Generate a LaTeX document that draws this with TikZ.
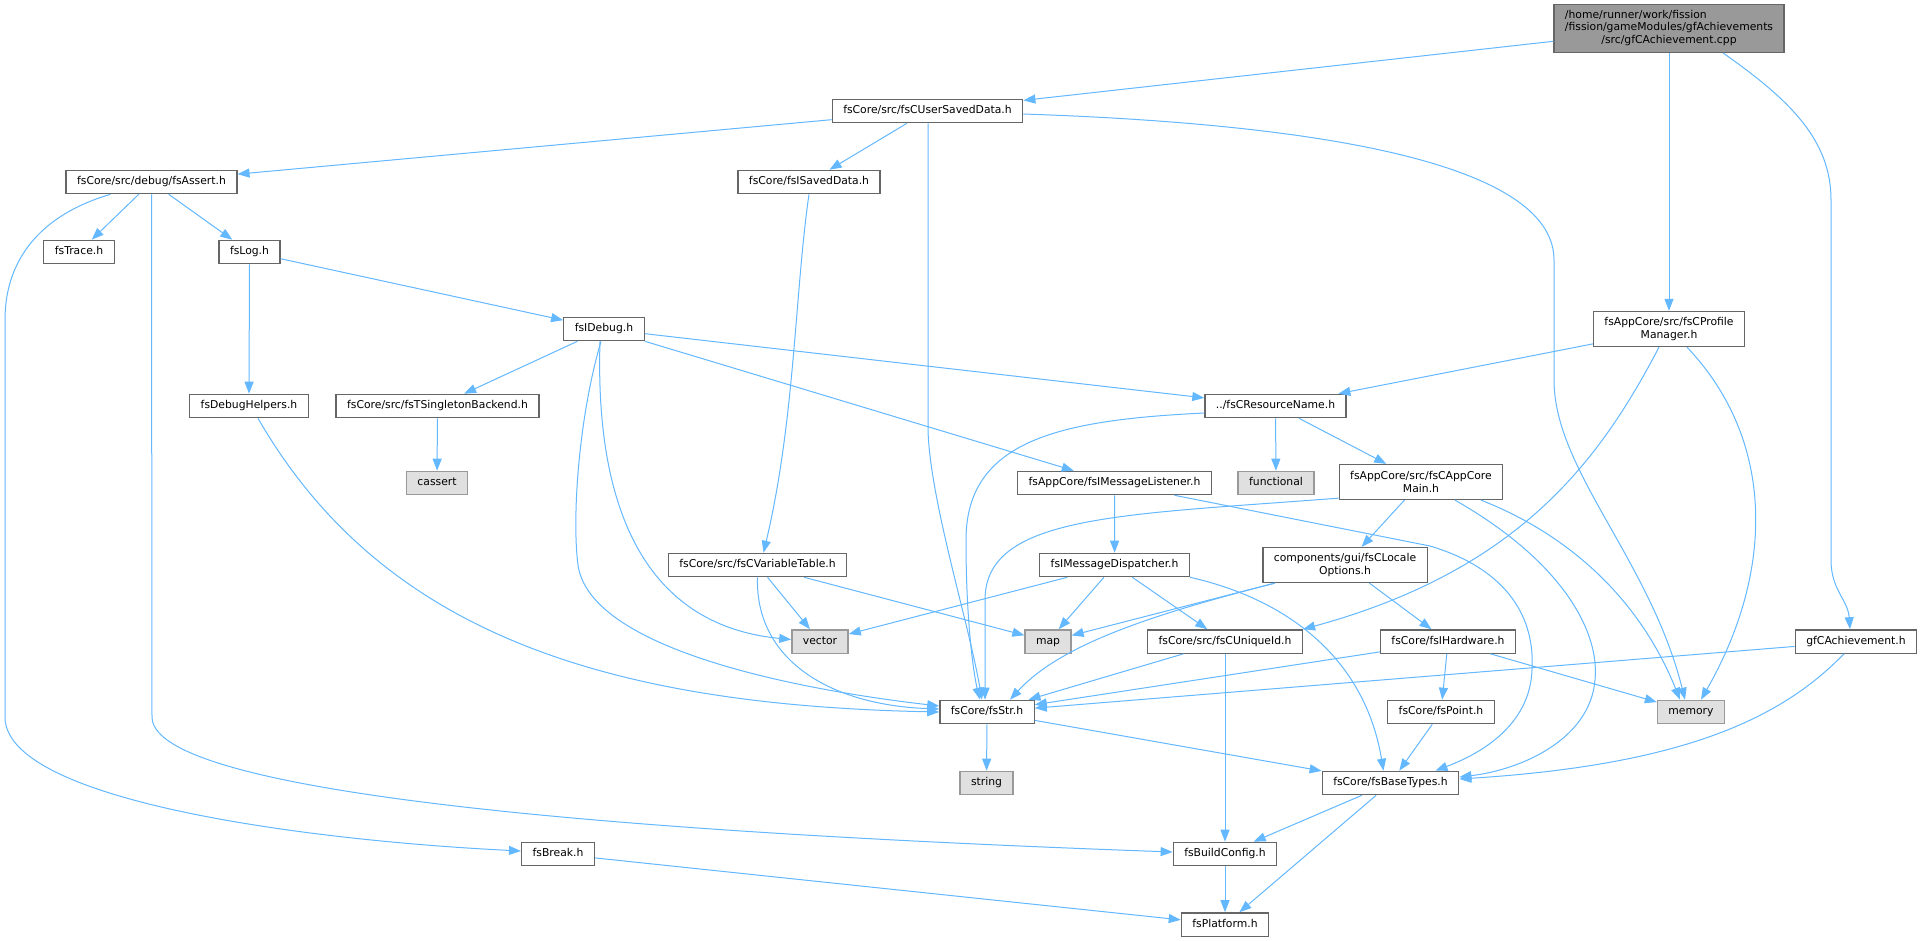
\documentclass[tikz,border=0pt]{standalone}
\usepackage{fontspec}
\setmainfont{DejaVu Sans}
\usepackage{tikz}
\usetikzlibrary{arrows.meta, positioning}
\definecolor{depblue}{HTML}{63B8FF}
\definecolor{boxgray}{HTML}{666666}
\definecolor{sysgray}{HTML}{999999}
\definecolor{sysfill}{HTML}{E0E0E0}
\definecolor{mainfill}{HTML}{999999}
\tikzset{
  incgraph/.style={
	x=1pt, y=-1pt, % one unit is one pixel of the graph, y grows downwards
	>={Triangle[length=12pt, width=9pt]}, % filled heads like the doxygen ones
	font=\fontsize{10.8}{12.3}\selectfont, % label size
  },
  box/.style={draw=boxgray, fill=white, line width=1.3pt, inner xsep=11pt, inner ysep=0pt}, % plain header box
  file/.style={box, minimum height=23.3pt, text height=8pt, text depth=2.4pt}, % one line of text
  twoline/.style={box, align=center, minimum height=35pt}, % name broken over two lines
  sysfile/.style={file, draw=sysgray, fill=sysfill}, % standard library header
  mainfile/.style={box, fill=mainfill, minimum height=47.6pt}, % the source file itself
  dep/.style={->, color=depblue, line width=1pt}, % include edge, head filled in the same blue
}

\begin{document}
\begin{tikzpicture}[incgraph]
\path[fill=white] (0,0) rectangle (1922,941);
\useasboundingbox (0,0) rectangle (1922,941);

% files
\node[mainfile] (main) at (1669,28.5) {\begin{tabular}{@{}l@{}}/home/runner/work/fission\\/fission/gameModules/gfAchievements\\\multicolumn{1}{@{}c@{}}{/src/gfCAchievement.cpp}\end{tabular}};
\node[file] (usd) at (927.5,111) {fsCore/src/fsCUserSavedData.h};
\node[file] (assert) at (151.5,182) {fsCore/src/debug/fsAssert.h};
\node[file] (isaved) at (809,182) {fsCore/fsISavedData.h};
\node[file] (trace) at (79,252) {fsTrace.h};
\node[file] (log) at (249.5,252) {fsLog.h};
\node[file] (idebug) at (604,329) {fsIDebug.h};
\node[twoline] (profmgr) at (1669,329) {fsAppCore/src/fsCProfile\\Manager.h};
\node[file] (dbghelp) at (249,406) {fsDebugHelpers.h};
\node[file] (singleton) at (437.5,406) {fsCore/src/fsTSingletonBackend.h};
\node[file] (resname) at (1275.5,406) {../fsCResourceName.h};
\node[sysfile] (cassert) at (437,483) {cassert};
\node[file] (listener) at (1114.5,483) {fsAppCore/fsIMessageListener.h};
\node[sysfile] (functional) at (1276,483) {functional};
\node[twoline] (appmain) at (1421,482) {fsAppCore/src/fsCAppCore\\Main.h};
\node[file] (vartable) at (757.5,565) {fsCore/src/fsCVariableTable.h};
\node[file] (dispatcher) at (1114.6,565) {fsIMessageDispatcher.h};
\node[twoline] (locale) at (1345,565) {components/gui/fsCLocale\\Options.h};
\node[sysfile] (vector) at (820,641.5) {vector};
\node[sysfile] (map) at (1048,641.5) {map};
\node[file] (uniqueid) at (1225,641.5) {fsCore/src/fsCUniqueId.h};
\node[file] (hardware) at (1448,641.5) {fsCore/fsIHardware.h};
\node[file] (gfach) at (1856,641.5) {gfCAchievement.h};
\node[file] (fsstr) at (987,712) {fsCore/fsStr.h};
\node[file] (point) at (1441,712) {fsCore/fsPoint.h};
\node[sysfile] (memory) at (1691,712) {memory};
\node[sysfile] (string) at (986.5,783) {string};
\node[file] (basetypes) at (1390.5,783) {fsCore/fsBaseTypes.h};
\node[file] (buildcfg) at (1225,854) {fsBuildConfig.h};
\node[file] (breakh) at (558,854) {fsBreak.h};
\node[file] (platform) at (1225,924.5) {fsPlatform.h};

% straight includes
\draw[dep] (main) edge (usd)
	(main) edge (profmgr)
	(usd) edge (assert)
	(usd) edge (isaved)
	(assert) edge (trace)
	(assert) edge (log)
	(log) edge (idebug)
	(log) edge (dbghelp)
	(idebug) edge (singleton)
	(singleton) edge (cassert)
	(idebug) edge (resname)
	(idebug) edge (listener)
	(vartable) edge (vector)
	(vartable) edge (map)
	(profmgr) edge (resname)
	(resname) edge (functional)
	(resname) edge (appmain)
	(listener) edge (dispatcher)
	(appmain) edge (locale)
	(dispatcher) edge (vector)
	(dispatcher) edge (map)
	(dispatcher) edge (uniqueid)
	(locale) edge (map)
	(locale) edge (hardware)
	(uniqueid) edge (fsstr)
	(uniqueid) edge (buildcfg)
	(hardware) edge (fsstr)
	(hardware) edge (point)
	(hardware) edge (memory)
	(gfach) edge (fsstr)
	(fsstr) edge (string)
	(fsstr) edge (basetypes)
	(point) edge (basetypes)
	(basetypes) edge (buildcfg)
	(basetypes) edge (platform)
	(buildcfg) edge (platform)
	(breakh) edge (platform)
;

% curved includes
\draw[dep] ([xshift=54pt]main.south) .. controls (1790,100) and (1831,140) .. (1831,200)
	-- (1831,560) .. controls (1831,590) and (1848,600) .. ([xshift=-6pt]gfach.north);
\draw[dep] ([yshift=-3pt]usd.east) .. controls (1350,125) and (1554,170) .. (1554,260)
	-- (1554,380) .. controls (1554,470) and (1650,560) .. ([xshift=-6pt]memory.north);
\draw[dep] ([xshift=0.5pt]usd.south) -- (928,430) .. controls (930,500) and (968,620) .. ([xshift=-5pt]fsstr.north);
\draw[dep] ([xshift=-41pt]assert.south) .. controls (40,215) and (5,260) .. (5,320)
	-- (5,717) .. controls (5,800) and (300,840) .. ([yshift=3pt]breakh.west);
\draw[dep] (assert.south) -- (152,717) .. controls (152,800) and (700,835) .. ([yshift=2pt]buildcfg.west);
\draw[dep] ([xshift=9pt]dbghelp.south) .. controls (380,630) and (600,705) .. (fsstr.west);
\draw[dep] ([xshift=-4pt]idebug.south) .. controls (595,500) and (640,625) .. ([yshift=2pt]vector.west);
\draw[dep] ([xshift=-3pt]idebug.south) .. controls (578,420) and (572,520) .. (578,565)
	.. controls (590,650) and (800,690) .. ([yshift=6pt]fsstr.west);
\draw[dep] (isaved.south) .. controls (795,290) and (795,420) .. ([xshift=6pt]vartable.north);
\draw[dep] (vartable.south) .. controls (755,660) and (830,705) .. ([yshift=3pt]fsstr.west);
\draw[dep] ([xshift=-10pt]profmgr.south) .. controls (1600,460) and (1520,570) .. (uniqueid.north east);
\draw[dep] ([xshift=18pt]profmgr.south) .. controls (1775,440) and (1775,570) .. ([xshift=10pt]memory.north);
\draw[dep] ([yshift=-7pt]resname.west) .. controls (1060,420) and (966,440) .. (966,540)
	.. controls (966,630) and (975,680) .. ([xshift=-7pt]fsstr.north);
\draw[dep] ([xshift=60pt]listener.south) -- (1430,546) .. controls (1510,570) and (1535,620) .. (1532,670)
	.. controls (1530,720) and (1490,750) .. ([xshift=45pt]basetypes.north);
\draw[dep] ([yshift=2pt]appmain.south west) .. controls (1120,515) and (985,515) .. (985,600)
	-- ([xshift=-2pt]fsstr.north);
\draw[dep] ([xshift=34pt]appmain.south) .. controls (1560,560) and (1600,630) .. (1595,680)
	.. controls (1590,740) and (1520,770) .. ([yshift=6pt]basetypes.east);
\draw[dep] ([xshift=60pt]appmain.south) .. controls (1570,535) and (1640,600) .. ([xshift=-11pt]memory.north);
\draw[dep] (dispatcher.south east) .. controls (1290,600) and (1365,660) .. ([xshift=-7pt]basetypes.north);
\draw[dep] ([xshift=-70pt]locale.south) .. controls (1150,615) and (1060,645) .. ([xshift=23pt]fsstr.north);
\draw[dep] ([xshift=-12pt]gfach.south) .. controls (1780,720) and (1680,765) .. ([yshift=4pt]basetypes.east);
\end{tikzpicture}
\end{document}
